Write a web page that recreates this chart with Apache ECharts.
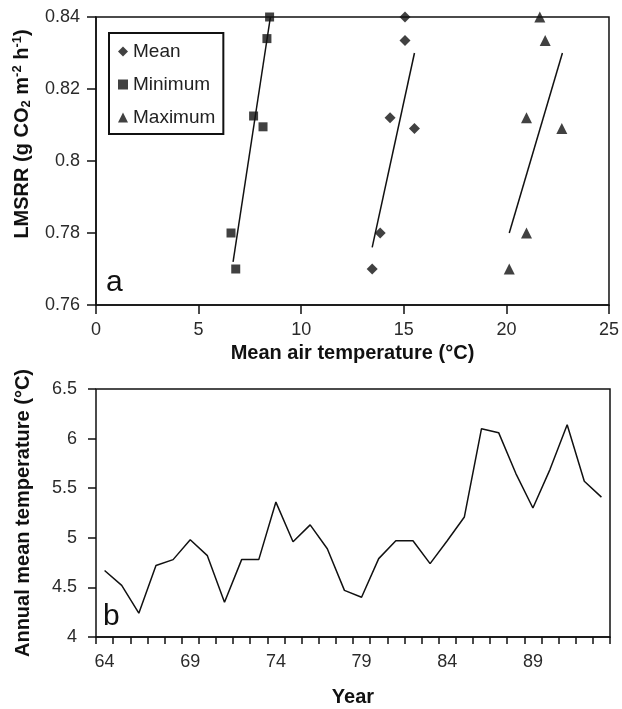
<!DOCTYPE html>
<html>
<head>
<meta charset="utf-8">
<script src="https://cdn.jsdelivr.net/npm/echarts@6/dist/echarts.min.js"></script>
<style>html,body{margin:0;padding:0;background:#fff}#c{width:622px;height:709px}</style>
</head>
<body>
<div id="c"></div>
<script>
// Panel a: LMSRR vs mean air temperature
const meanPts = [[15.06,0.84],[15.06,0.8335],[14.33,0.812],[15.52,0.809],[13.85,0.78],[13.46,0.77]];
const minPts  = [[8.46,0.84],[8.33,0.834],[7.68,0.8125],[8.14,0.8095],[6.58,0.78],[6.81,0.77]];
const maxPts  = [[21.63,0.84],[21.89,0.8335],[20.98,0.812],[22.7,0.809],[20.98,0.78],[20.14,0.77]];
const meanTrend = [[13.46,0.776],[15.52,0.83]];
const minTrend  = [[6.68,0.772],[8.5,0.84]];
const maxTrend  = [[20.14,0.78],[22.73,0.83]];
const xTicksA = {min:0, max:25, interval:5};
const yTicksA = {min:0.76, max:0.84, interval:0.02};

// Panel b: annual mean temperature
const years = ['64','65','66','67','68','69','70','71','72','73','74','75','76','77','78','79','80','81','82','83','84','85','86','87','88','89','90','91','92','93'];
const annualTemp = [4.67,4.52,4.24,4.72,4.78,4.98,4.82,4.35,4.78,4.78,5.36,4.96,5.13,4.89,4.47,4.40,4.79,4.97,4.97,4.74,4.97,5.21,6.10,6.06,5.65,5.30,5.69,6.14,5.57,5.41];
const yTicksB = {min:4, max:6.5, interval:0.5};

const FONT = 'Liberation Sans';
const lab = {color:'#2a2a2a', fontSize:18, fontFamily:FONT};
const axLine = {lineStyle:{color:'#111', width:1.5}};
const nameStyle = {color:'#111', fontSize:20, fontWeight:'bold', fontFamily:FONT};

const chart = echarts.init(document.getElementById('c'), null, {renderer:'canvas'});
chart.setOption({
  animation:false,
  backgroundColor:'#fff',
  grid:[
    {left:96, right:11, top:17, height:288, show:true, borderColor:'#111', borderWidth:1.5},
    {left:96, right:12, top:389, height:248, show:true, borderColor:'#111', borderWidth:1.5}
  ],
  legend:{
    data:['Mean','Minimum','Maximum'],
    orient:'vertical', left:109, top:33,
    padding:[9,8,7,9],
    itemGap:14, itemWidth:10, itemHeight:10,
    borderColor:'#111', borderWidth:2,
    textStyle:{color:'#222', fontSize:19, fontFamily:FONT, lineHeight:19}
  },
  xAxis:[
    {type:'value', gridIndex:0, min:xTicksA.min, max:xTicksA.max, interval:xTicksA.interval,
     axisLine:axLine, axisTick:{show:true, length:9, lineStyle:{color:'#111', width:1.5}},
     splitLine:{show:false}, axisLabel:Object.assign({margin:16}, lab),
     name:'Mean air temperature (°C)', nameLocation:'middle', nameGap:38, nameTextStyle:nameStyle},
    {type:'category', gridIndex:1, data:years, boundaryGap:true,
     axisLine:axLine, axisTick:{show:true, interval:0, length:7, lineStyle:{color:'#111', width:1.5}},
     axisLabel:Object.assign({interval:4, margin:16}, lab),
     name:'Year', nameLocation:'middle', nameGap:50, nameTextStyle:nameStyle}
  ],
  yAxis:[
    {type:'value', gridIndex:0, min:yTicksA.min, max:yTicksA.max, interval:yTicksA.interval,
     axisLine:axLine, axisTick:{show:true, length:9, lineStyle:{color:'#111', width:1.5}},
     splitLine:{show:false}, axisLabel:Object.assign({margin:16}, lab),
     name:'LMSRR (g CO{sub|2} m{sup|-2} h{sup|-1})', nameLocation:'middle', nameGap:63,
     nameTextStyle:Object.assign({}, nameStyle, {padding:[0,0,0,54], rich:{
       sub:{fontSize:13, fontWeight:'bold', fontFamily:FONT, color:'#111', verticalAlign:'bottom', padding:[9,0,0,0]},
       sup:{fontSize:13, fontWeight:'bold', fontFamily:FONT, color:'#111', verticalAlign:'top', padding:[0,0,9,0]}
     }})},
    {type:'value', gridIndex:1, min:yTicksB.min, max:yTicksB.max, interval:yTicksB.interval,
     axisLine:axLine, axisTick:{show:true, length:8, lineStyle:{color:'#111', width:1.5}},
     splitLine:{show:false}, axisLabel:Object.assign({margin:19}, lab),
     name:'Annual mean temperature (°C)', nameLocation:'middle', nameGap:63, nameTextStyle:nameStyle}
  ],
  graphic:[
    {type:'text', left:106, top:268, style:{text:'a', fontSize:30, fontFamily:FONT, fill:'#111'}},
    {type:'text', left:103, top:602, style:{text:'b', fontSize:30, fontFamily:FONT, fill:'#111'}}
  ],
  series:[
    {name:'Mean', type:'scatter', xAxisIndex:0, yAxisIndex:0, data:meanPts, symbol:'diamond', symbolSize:11, itemStyle:{color:'#111'}},
    {name:'Minimum', type:'scatter', xAxisIndex:0, yAxisIndex:0, data:minPts, symbol:'rect', symbolSize:9, itemStyle:{color:'#111'}},
    {name:'Maximum', type:'scatter', xAxisIndex:0, yAxisIndex:0, data:maxPts, symbol:'triangle', symbolSize:11, itemStyle:{color:'#111'}},
    {type:'line', xAxisIndex:0, yAxisIndex:0, data:meanTrend, symbol:'none', lineStyle:{color:'#111', width:1.5}},
    {type:'line', xAxisIndex:0, yAxisIndex:0, data:minTrend, symbol:'none', lineStyle:{color:'#111', width:1.5}},
    {type:'line', xAxisIndex:0, yAxisIndex:0, data:maxTrend, symbol:'none', lineStyle:{color:'#111', width:1.5}},
    {type:'line', xAxisIndex:1, yAxisIndex:1, data:annualTemp, symbol:'none', lineStyle:{color:'#111', width:1.5}}
  ]
});
</script>
</body>
</html>
